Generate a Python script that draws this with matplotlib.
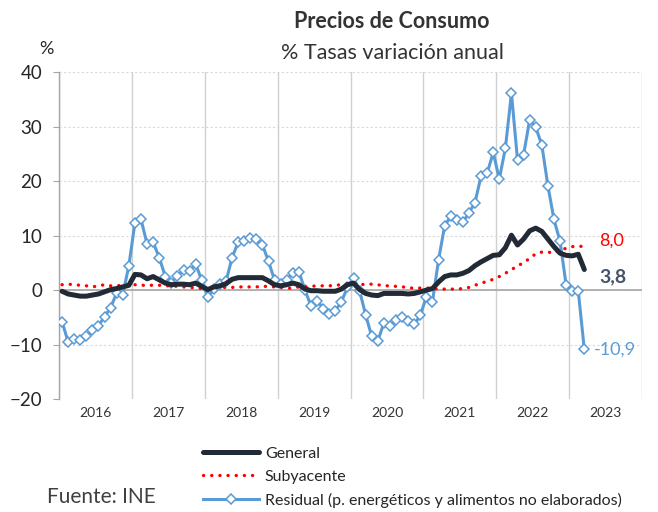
import matplotlib
matplotlib.use("Agg")
import matplotlib.pyplot as plt
import numpy as np

plt.rcParams.update({
    "font.family": ["Lato", "DejaVu Sans"],
    "font.size": 10,
})

# monthly data, Jan 2016 .. Mar 2023
years = ["2016", "2017", "2018", "2019", "2020", "2021", "2022", "2023"]

general = [
    -0.2, -0.7, -0.9, -1.1, -1.1, -0.9, -0.7, -0.3, 0.1, 0.3, 0.6, 0.9,
    2.9, 2.8, 2.1, 2.5, 1.9, 1.3, 1.0, 1.1, 1.1, 1.0, 1.3, 0.7,
    0.1, 0.6, 0.8, 1.2, 2.0, 2.3, 2.3, 2.3, 2.3, 2.3, 1.7, 1.0,
    0.8, 1.0, 1.3, 1.0, 0.2, -0.1, -0.1, -0.2, -0.2, -0.2, 0.2, 1.0,
    1.3, 0.1, -0.6, -0.9, -1.0, -0.6, -0.6, -0.6, -0.6, -0.7, -0.6, -0.3,
    0.0, 0.3, 1.5, 2.5, 2.8, 2.8, 3.1, 3.6, 4.5, 5.2, 5.8, 6.4,
    6.5, 7.8, 10.1, 8.3, 9.4, 10.9, 11.4, 10.8, 9.4, 8.0, 6.8, 6.4,
    6.3, 6.6, 3.8,
]

subyacente = [
    1.0, 1.1, 1.0, 0.9, 0.8, 0.6, 0.8, 1.0, 0.8, 0.8, 0.9, 1.0,
    1.0, 0.9, 0.9, 0.9, 0.9, 0.8, 0.8, 0.7, 0.6, 0.5, 0.4, 0.3,
    0.2, 0.3, 0.5, 0.5, 0.5, 0.6, 0.6, 0.6, 0.6, 0.7, 0.7, 0.6,
    0.6, 0.3, 0.4, 0.6, 0.6, 0.7, 0.8, 0.8, 0.8, 0.9, 1.0, 1.1,
    1.0, 1.0, 1.1, 1.1, 1.0, 0.8, 0.8, 0.7, 0.6, 0.5, 0.3, 0.4,
    0.4, 0.3, 0.2, 0.2, 0.2, 0.2, 0.3, 0.5, 0.9, 1.3, 1.6, 2.0,
    2.5, 3.1, 3.8, 4.4, 5.1, 5.8, 6.7, 7.0, 7.0, 6.8, 7.3, 7.7,
    8.0, 8.1, 8.0,
]

residual = [
    -5.8, -9.5, -9.0, -9.2, -8.5, -7.4, -6.5, -4.9, -3.2, -0.5, -0.8, 4.5,
    12.4, 13.0, 8.5, 8.8, 6.0, 2.5, 1.4, 2.6, 3.7, 3.5, 4.8, 1.8,
    -1.3, 0.2, 1.2, 1.6, 6.0, 8.8, 9.1, 9.6, 9.4, 8.3, 5.3, 1.8,
    1.1, 1.9, 3.2, 3.4, 0.0, -2.9, -1.9, -3.4, -4.4, -3.8, -2.1, 0.5,
    2.2, -0.1, -4.6, -8.5, -9.3, -6.0, -6.6, -5.4, -4.9, -5.6, -6.3, -4.6,
    -1.2, -2.1, 5.6, 11.8, 13.6, 12.9, 12.5, 14.2, 16.1, 21.0, 21.5, 25.3,
    20.4, 26.1, 36.2, 23.9, 24.9, 31.3, 29.9, 26.7, 19.2, 13.0, 9.0, 1.0,
    -0.1, -0.1, -10.9,
]

C_GEN = "#212A35"
C_SUB = "#FF0000"
C_RES = "#5B9BD5"

x = np.arange(len(general)) + 0.5
n_months = 12 * len(years)

fig = plt.figure(figsize=(6.58, 5.12), dpi=100)
ax = fig.add_axes([0.0897, 0.2207, 0.886, 0.6377])

ax.plot(x, residual, color=C_RES, lw=2.2, marker="D", markersize=5.5,
        markerfacecolor="white", markeredgecolor=C_RES, markeredgewidth=1.1,
        label="Residual (p. energéticos y alimentos no elaborados)", zorder=3)
ax.plot(x, subyacente, color=C_SUB, lw=2.4, linestyle=(0, (0.05, 2.4)),
        dash_capstyle="round", label="Subyacente", zorder=4)
ax.plot(x, general, color=C_GEN, lw=3.6, solid_joinstyle="round",
        solid_capstyle="round", label="General", zorder=5)

ax.set_xlim(0, n_months)
ax.set_ylim(-20, 40)
ax.set_yticks([-20, -10, 0, 10, 20, 30, 40])

# year separators as minor ticks, labels centered in between
ax.set_xticks(np.arange(0, n_months + 1, 12), minor=True)
ax.set_xticks(np.arange(6, n_months, 12))
ax.set_xticklabels(years)
ax.tick_params(axis="x", which="both", length=0, labelsize=10, pad=6, colors="#333333")
ax.tick_params(axis="y", length=4, width=0.8, color="#A6A6A6", labelsize=13.5,
               pad=8, labelcolor="#262626")

ax.grid(True, axis="x", which="minor", color="#D0D0D0", lw=1.0, linestyle="-")
ax.grid(True, axis="y", which="major", color="#D9D9D9", lw=0.8, linestyle=(0, (2, 2)))
ax.grid(False, axis="x", which="major")
ax.set_axisbelow(True)

for side in ("top", "right", "bottom"):
    ax.spines[side].set_visible(False)
ax.spines["left"].set_color("#A6A6A6")
ax.spines["left"].set_linewidth(1.0)
ax.axhline(0, color="#A6A6A6", lw=1.2, zorder=1)

# end-of-series labels
ax.annotate("8,0", (x[-1], subyacente[-1]), xytext=(11, 4), textcoords="offset points",
            color=C_SUB, fontsize=13, va="center", ha="left")
ax.annotate("3,8", (x[-1], general[-1]), xytext=(11, -5), textcoords="offset points",
            color="#44546A", fontsize=14, fontweight="bold", va="center", ha="left")
ax.annotate("-10,9", (x[-1], residual[-1]), xytext=(7, 0), textcoords="offset points",
            color=C_RES, fontsize=13, va="center", ha="left")

fig.text(0.596, 0.958, "Precios de Consumo", ha="center", va="center",
         fontsize=15.5, fontweight="bold", color="#333333")
fig.text(0.596, 0.897, "% Tasas variación anual", ha="center", va="center",
         fontsize=15.5, color="#333333")
fig.text(0.071, 0.905, "%", ha="center", va="center", fontsize=13, color="#262626")
fig.text(0.072, 0.029, "Fuente: INE", ha="left", va="center", fontsize=15, color="#404040")

h, l = ax.get_legend_handles_labels()
order = [2, 1, 0]
leg = fig.legend([h[i] for i in order], [l[i] for i in order], loc="upper left",
                 bbox_to_anchor=(0.297, 0.143), frameon=False, fontsize=11.5,
                 handlelength=3.5, handletextpad=0.35, labelspacing=0.55,
                 borderpad=0, numpoints=1, labelcolor="#262626")

fig.savefig("out.png", dpi=100)
